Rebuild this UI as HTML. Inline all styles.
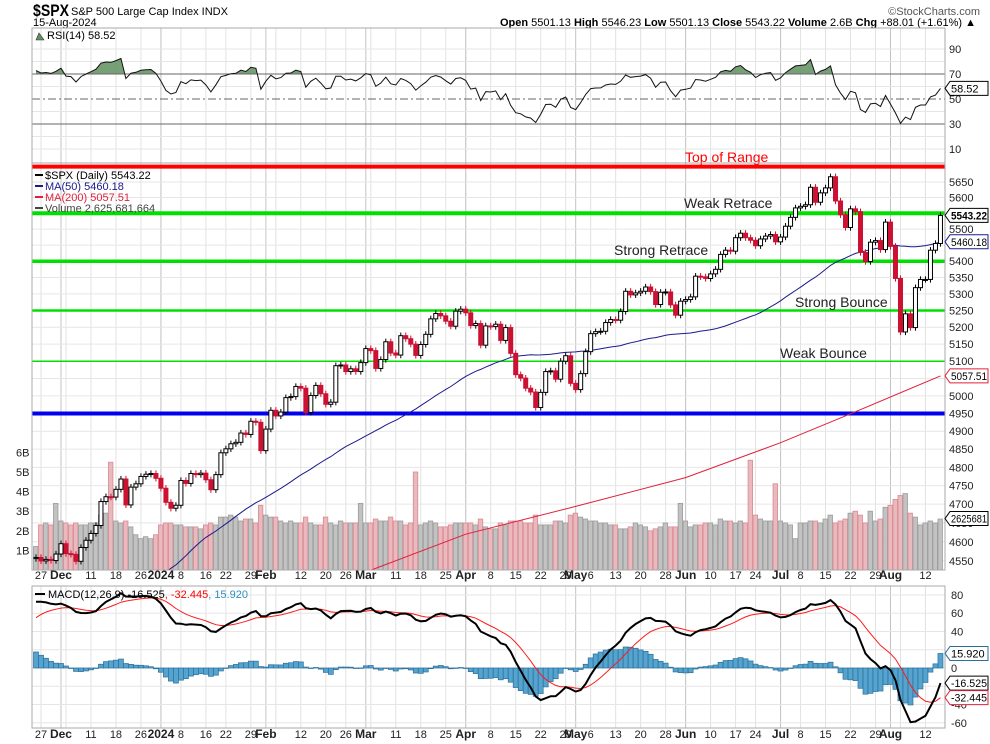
<!DOCTYPE html>
<html><head><meta charset="utf-8"><style>
html,body{margin:0;padding:0;background:#fff;}
svg{display:block;font-family:"Liberation Sans",Arial,sans-serif;}
</style></head><body>
<svg id="chart" width="990" height="744" viewBox="0 0 990 744" xmlns="http://www.w3.org/2000/svg">
<rect width="990" height="744" fill="#fff"/>
<g>
<text x="33" y="16" font-size="17" font-weight="bold" textLength="36" lengthAdjust="spacingAndGlyphs">$SPX</text>
<text x="71" y="15" font-size="11">S&amp;P 500 Large Cap Index  INDX</text>
<text x="33" y="26" font-size="11">15-Aug-2024</text>
<text x="980" y="15" font-size="11" fill="#555" text-anchor="end">©StockCharts.com</text>
<text x="976" y="26" font-size="11" text-anchor="end"><tspan font-weight="bold">Open</tspan> 5501.13 <tspan font-weight="bold">High</tspan> 5546.23 <tspan font-weight="bold">Low</tspan> 5501.13 <tspan font-weight="bold">Close</tspan> 5543.22 <tspan font-weight="bold">Volume</tspan> 2.6B <tspan font-weight="bold">Chg</tspan> +88.01 (+1.61%) ▲</text>
</g>
<g id="grid"></g>
<g id="rsi"></g>
<g id="price"></g>
<g id="macd"></g>
<g id="axes"></g>
</svg>
<script>
const priorCloses=[4300,4288,4288,4229,4263,4258,4308,4336,4358,4376,4349,4327,4373,4373,4314,4278,4224,4217,4248,4186,4137,4117,4167,4193,4237,4318,4358,4365,4378,4383,4347,4415,4411,4496,4503,4508,4514,4547,4538,4556];
const closes=[4559,4550,4554,4551,4568,
4595,4569,4567,4549,4585,4604,4622,4643,4707,4720,4719,4740,4768,4698,4746,4755,4775,4781,4783,4770,
4743,4705,4689,4697,4764,4756,4783,4780,4784,4766,4739,4780,4840,4851,4865,4869,4895,4891,4928,4925,4846,
4906,4959,4943,4954,4995,4998,5027,5022,4953,5001,5030,5006,4976,4982,5087,5089,5070,5078,5070,5096,
5137,5131,5079,5105,5157,5124,5118,5175,5166,5150,5117,5149,5179,5225,5241,5234,5218,5203,5248,5254,
5243,5205,5211,5147,5204,5202,5209,5161,5199,5123,5061,5051,5022,5011,4967,5010,5070,5072,5048,5100,5116,5036,
5018,5064,5128,5181,5187,5188,5214,5223,5221,5247,5308,5297,5303,5308,5321,5307,5268,5305,5306,5267,5236,5278,
5283,5291,5354,5352,5347,5361,5375,5421,5434,5431,5473,5487,5473,5465,5448,5469,5478,5483,5460,
5475,5509,5537,5567,5572,5577,5633,5585,5615,5631,5667,5589,5545,5505,5564,5555,5427,5399,5459,5464,5436,5522,
5446,5347,5186,5240,5199,5319,5344,5344,5434,5455,5543];
const volumes=[1.2,2.3,2.4,2.3,3.4,
2.5,2.4,2.3,2.4,2.3,2.3,2.4,2.4,2.8,2.9,5.5,2.5,2.4,2.5,2.2,1.8,1.6,1.7,1.6,1.8,
2.3,2.4,2.4,2.3,2.3,2.2,2.2,2.2,2.1,2.3,2.4,2.3,2.7,2.7,2.8,2.7,2.5,2.6,2.6,2.4,3.3,
2.8,2.7,2.7,2.5,2.4,2.5,2.4,2.4,2.7,2.4,2.3,2.3,2.7,2.4,2.3,2.5,2.4,2.4,2.4,3.4,
2.4,2.4,2.6,2.5,2.5,2.7,2.5,2.5,2.3,2.4,5.0,2.3,2.4,2.5,2.4,2.2,2.2,2.3,2.4,2.4,
2.4,2.4,2.3,2.6,2.2,2.1,2.1,2.4,2.3,2.5,2.5,2.5,2.4,2.4,2.8,2.3,2.3,2.3,2.5,2.5,2.4,2.8,
2.9,2.7,2.6,2.5,2.5,2.4,2.4,2.3,2.3,2.1,2.1,2.2,2.4,2.3,2.2,2.0,2.1,2.2,2.4,2.2,2.2,3.4,
2.5,2.2,2.3,2.3,2.4,2.4,2.3,2.6,2.5,2.5,2.4,2.5,2.4,5.6,2.8,2.6,2.5,2.5,4.4,
2.5,2.4,2.3,1.6,2.4,2.4,2.5,2.5,2.4,2.6,2.8,2.4,2.5,2.6,2.9,3.0,2.8,2.4,3.0,2.5,2.6,3.2,
3.3,3.6,3.8,3.9,2.9,2.7,2.3,2.4,2.5,2.4,2.6];
const ma200Days=[46,66,86,108,130,149,163,181];
const ma200Vals=[4470,4521,4620,4694,4772,4868,4949,5057.5];
const levelPrices=[5700,5550,5400,5250,5100,4950];
const levelColors=['#ff0000','#00e000','#00e000','#00e000','#00e000','#0000ee'];
const levelWidths=[4,4,3.5,2.5,1.5,4];
const priceTicks=[5650,5600,5550,5500,5450,5400,5350,5300,5250,5200,5150,5100,5050,5000,4950,4900,4850,4800,4750,4700,4650,4600,4550];
const rsiTicks=[90,70,50,30,10];
const macdTicks=[80,60,40,20,0,-20,-40,-60];
const volTicks=[1,2,3,4,5,6];
const annotations=[['Top of Range',685,162,'#ff0000'],['Weak Retrace',684,208,'#222'],['Strong Retrace',614,255,'#222'],['Strong Bounce',795,307,'#222'],['Weak Bounce',780,358,'#222']];

const NS='http://www.w3.org/2000/svg';
function mk(tag,attrs,parent){const e=document.createElementNS(NS,tag);for(const k in attrs)e.setAttribute(k,attrs[k]);parent.appendChild(e);return e;}
const L=32,R=945;
const xOf=i=>36+i*(905/181)*0.9994;
const yP=p=>182+(Math.log(5650)-Math.log(p))*1750;
const yV=v=>570-v*19.6;
const yR=r=>99-(r-50)*1.25;
const yM=m=>668-m*0.913;
const hol=['2023-11-23','2023-12-25','2024-01-01','2024-01-15','2024-02-19','2024-03-29','2024-05-27','2024-06-19','2024-07-04'];
const dates=[];{let d=new Date(Date.UTC(2023,10,24));const end=Date.UTC(2024,7,15);while(d.getTime()<=end){const w=d.getUTCDay();const s=d.toISOString().slice(0,10);if(w!==0&&w!==6&&hol.indexOf(s)<0)dates.push(new Date(d));d=new Date(d.getTime()+86400000);}}
const N=closes.length;
const grid=document.getElementById('grid'),gP=document.getElementById('price'),gR=document.getElementById('rsi'),gM=document.getElementById('macd'),gA=document.getElementById('axes');
const defs=mk('defs',{},grid);
const cp=mk('clipPath',{id:'cpP'},defs);mk('rect',{x:L,y:163,width:R-L,height:407},cp);
const cr=mk('clipPath',{id:'cpR'},defs);mk('rect',{x:L,y:28,width:R-L,height:yR(70)-28},cr);
const cm=mk('clipPath',{id:'cpM'},defs);mk('rect',{x:L,y:586,width:R-L,height:142},cm);
const weekIdx=[],monthIdx=[];
for(let i=0;i<dates.length;i++){const d=dates[i],p=dates[i-1];if(i===0||d.getUTCMonth()!==p.getUTCMonth())monthIdx.push(i);if(i>0&&(d.getUTCDay()<p.getUTCDay()||(d-p)>3*86400000))weekIdx.push(i);}
const panels=[[28,163],[163,570],[586,728]];
panels.forEach(pn=>{
 weekIdx.forEach(i=>{const l=mk('line',{x1:xOf(i),x2:xOf(i),y1:pn[0],y2:pn[1],stroke:'#e2e2e2','stroke-width':1},grid);});
 monthIdx.forEach(i=>{if(i===0)return;const l=mk('line',{x1:xOf(i),x2:xOf(i),y1:pn[0],y2:pn[1],stroke:'#c4c4c4','stroke-width':1},grid);});
});
priceTicks.forEach(p=>{const l=mk('line',{x1:L,x2:R,y1:yP(p),y2:yP(p),stroke:'#e6e6e6'},grid);});
for(let r=10;r<=90;r+=10){if(r===30||r===50||r===70)continue;const l=mk('line',{x1:L,x2:R,y1:yR(r),y2:yR(r),stroke:'#e6e6e6'},grid);}
macdTicks.forEach(m=>{const l=mk('line',{x1:L,x2:R,y1:yM(m),y2:yM(m),stroke:'#e6e6e6'},grid);});
panels.forEach(pn=>{const r=mk('rect',{x:L,y:pn[0],width:R-L,height:pn[1]-pn[0],fill:'none',stroke:'#aaa'},gA);});

const pg=mk('g',{'clip-path':'url(#cpP)'},gP);
for(let i=0;i<N;i++){const up=i===0||closes[i]>=closes[i-1];const v=volumes[i];
 const b=mk('rect',{x:xOf(i)-2.5,y:yV(v),width:4.5,height:570-yV(v),fill:up?'#c2c2c2':'#eab9bd',stroke:up?'#9c9c9c':'#d98a92','stroke-width':0.8},pg);
 }
levelPrices.forEach((p,k)=>{const l=mk('line',{x1:L,x2:R,y1:yP(p),y2:yP(p),stroke:levelColors[k],'stroke-width':levelWidths[k]},pg);});
let d200='';ma200Days.forEach((di,k)=>{d200+=(k?'L':'M')+xOf(di).toFixed(1)+','+yP(ma200Vals[k]).toFixed(1);});
const m2=mk('path',{d:d200,fill:'none',stroke:'#e0203c','stroke-width':1},pg);
const all=priorCloses.concat(closes),P=priorCloses.length;
let d50='';for(let i=0;i<N;i++){const j=i+P;const s=Math.max(0,j-49);let sum=0;for(let k=s;k<=j;k++)sum+=all[k];const m=sum/(j-s+1);d50+=(i?'L':'M')+xOf(i).toFixed(1)+','+yP(m).toFixed(1);}
const m5=mk('path',{d:d50,fill:'none',stroke:'#1a1a8c','stroke-width':1},pg);
for(let i=0;i<N;i++){const o=i?closes[i-1]:4556,c=closes[i];const up=c>=o;const hi=Math.max(o,c)*1.0018,lo=Math.min(o,c)*0.9982;const x=xOf(i);const col=up?'#000':'#cc1133';
 const w=mk('line',{x1:x,x2:x,y1:yP(hi),y2:yP(lo),stroke:col,'stroke-width':1},pg);
 const top=yP(Math.max(o,c)),bot=yP(Math.min(o,c));
 const r=mk('rect',{x:x-2,y:top,width:4,height:Math.max(1,bot-top),fill:up?'#fff':'#cc1133',stroke:col,'stroke-width':1},pg);}
annotations.forEach(a=>{const t=mk('text',{x:a[1],y:a[2],'font-size':14,fill:a[3]},gP);t.textContent=a[0];});
const lg=mk('g',{'font-size':11},gP);
const lgItems=[['$SPX (Daily) 5543.22','#000'],['MA(50) 5460.18','#1a1a8c'],['MA(200) 5057.51','#e0203c'],['Volume 2,625,681,664','#444']];
lgItems.forEach((it,k)=>{const y=179+k*11;mk('rect',{x:35,y:y-5,width:8,height:2,fill:it[1]},lg);const t=mk('text',{x:45,y:y,fill:it[1]},lg);t.textContent=it[0];});

let ag=0,al=0;const rsi=[];
for(let j=1;j<all.length;j++){const ch=all[j]-all[j-1];const g=Math.max(ch,0),l=Math.max(-ch,0);if(j<=14){ag+=g/14;al+=l/14;}else{ag=(ag*13+g)/14;al=(al*13+l)/14;}if(j>=P)rsi[j-P]=100-100/(1+ag/(al||1e-9));}
let dR='';for(let i=0;i<N;i++)dR+=(i?'L':'M')+xOf(i).toFixed(1)+','+yR(rsi[i]).toFixed(1);
const fillD=dR+'L'+xOf(N-1).toFixed(1)+','+yR(70)+'L'+xOf(0).toFixed(1)+','+yR(70)+'Z';
const rf=mk('path',{d:fillD,fill:'#5f8f5f','fill-opacity':0.85,'clip-path':'url(#cpR)'},gR);
[[70,''],[30,''],[50,'8,3,2,3']].forEach(a=>{const l=mk('line',{x1:L,x2:R,y1:yR(a[0]),y2:yR(a[0]),stroke:'#666','stroke-width':1,'stroke-dasharray':a[1]},gR);});
const rl=mk('path',{d:dR,fill:'none',stroke:'#111','stroke-width':1},gR);
const rt=mk('text',{x:47,y:39,'font-size':11},gR);rt.textContent='RSI(14) 58.52';
mk('path',{d:'M36,40 L39,33 L42,37 L44,40 Z',fill:'#5f8f5f',stroke:'#333','stroke-width':0.6},gR);

let e12=all[0],e26=all[0],sig=0;const macd=[],sg=[];
for(let j=0;j<all.length;j++){e12+=(all[j]-e12)*2/13;e26+=(all[j]-e26)*2/27;const m=e12-e26;sig= j===0?m:sig+(m-sig)*0.2;if(j>=P){macd[j-P]=m;sg[j-P]=sig;}}
const mg=mk('g',{'clip-path':'url(#cpM)'},gM);
for(let i=0;i<N;i++){const h=macd[i]-sg[i];const y0=yM(0),y1=yM(h);const b=mk('rect',{x:xOf(i)-2.5,y:Math.min(y0,y1),width:5,height:Math.max(0.5,Math.abs(y1-y0)),fill:'#55a3cf',stroke:'#2b6f99','stroke-width':0.7},mg);}
let dM='',dS='';for(let i=0;i<N;i++){dM+=(i?'L':'M')+xOf(i).toFixed(1)+','+yM(macd[i]).toFixed(1);dS+=(i?'L':'M')+xOf(i).toFixed(1)+','+yM(sg[i]).toFixed(1);}
const sl=mk('path',{d:dS,fill:'none',stroke:'#ff1a1a','stroke-width':1},mg);
const ml=mk('path',{d:dM,fill:'none',stroke:'#000','stroke-width':2},mg);
const mt=mk('text',{x:48,y:598,'font-size':11},gM);mt.innerHTML='MACD(12,26,9) -16.525<tspan fill="#ff0000">, -32.445</tspan><tspan fill="#2b8fc0">, 15.920</tspan>';
mk('rect',{x:35,y:593,width:10,height:2,fill:'#000'},gM);

function lab(txt,x,y,opt){const t=mk('text',Object.assign({x:x,y:y,'font-size':11,fill:'#222'},opt||{}),gA);t.textContent=txt;return t;}
priceTicks.forEach(p=>lab(String(p),949,yP(p)+4));
rsiTicks.forEach(r=>lab(String(r),949,yR(r)+4));
macdTicks.forEach(m=>lab(String(m),951,yM(m)+4));
volTicks.forEach(v=>lab(v+'B',16,yV(v)+4));
const mn=['Jan','Feb','Mar','Apr','May','Jun','Jul','Aug','Sep','Oct','Nov','Dec'];
const xl=[];
monthIdx.forEach(i=>{if(i===0)return;const d=dates[i];xl.push([i,d.getUTCMonth()===0?String(d.getUTCFullYear()):mn[d.getUTCMonth()],true]);});
weekIdx.forEach(i=>{const near=monthIdx.some(m=>m>0&&i>=m&&i-m<3);if(!near)xl.push([i,String(dates[i].getUTCDate()),false]);});
[579,738].forEach(y=>xl.forEach(a=>lab(a[1],xOf(a[0]),y,{'text-anchor':'middle','font-weight':a[2]?'bold':'normal','font-size':a[2]?12:11})));
function tag(txt,y,col,bold){const w=38;const g=mk('g',{},gA);
 mk('path',{d:`M${R},${y} L${R+5},${y-7} L${R+5+w},${y-7} L${R+5+w},${y+7} L${R+5},${y+7} Z`,fill:'#fff',stroke:col,'stroke-width':1},g);
 const at={x:R+6,y:y+4,'font-size':11,fill:'#000','font-weight':bold?'bold':'normal'};
 if(txt.length>=7){at.textLength=w-2;at.lengthAdjust='spacingAndGlyphs';}
 const t=mk('text',at,g);t.textContent=txt;}
tag('5543.22',yP(5543.22),'#000',true);
tag('5460.18',yP(5460.18),'#1a1a8c');
tag('5057.51',yP(5057.51),'#e0203c');
tag('2625681',yV(2.626),'#000');
tag('58.52',yR(58.52),'#000');
tag('15.920',yM(15.92),'#2b6f99');
tag('-16.525',yM(-16.525),'#000');
tag('-32.445',yM(-32.445),'#e0203c');
</script>
</body></html>
